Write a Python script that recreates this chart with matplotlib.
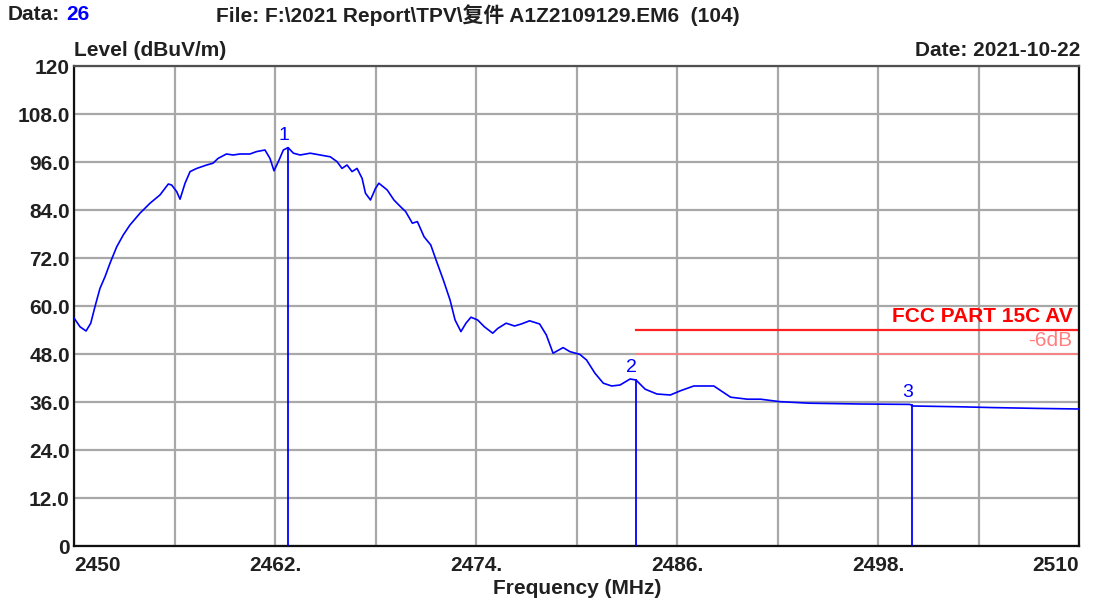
import numpy as np
import matplotlib
matplotlib.use('Agg')
import matplotlib.pyplot as plt

plt.rcParams['font.family'] = ['Liberation Sans', 'Noto Sans CJK SC']

freq = [2450.0, 2450.36, 2450.72, 2451.0, 2451.25, 2451.55, 2451.85, 2452.15, 2452.55,
        2452.94, 2453.34, 2453.94, 2454.54, 2455.13, 2455.63, 2455.83, 2456.13, 2456.33,
        2456.63, 2456.93, 2457.33, 2457.92, 2458.3, 2458.6, 2459.1, 2459.5, 2459.9,
        2460.5, 2460.9, 2461.4, 2461.7, 2461.94, 2462.2, 2462.5, 2462.78, 2463.1,
        2463.5, 2464.1, 2464.7, 2465.3, 2465.7, 2466.0, 2466.3, 2466.6, 2466.9,
        2467.2, 2467.4, 2467.7, 2468.0, 2468.2, 2468.7, 2469.1, 2469.5, 2469.8,
        2470.2, 2470.5, 2470.9, 2471.3, 2471.65, 2472.05, 2472.45, 2472.75, 2473.1,
        2473.4, 2473.7, 2474.1, 2474.5, 2475.0, 2475.3, 2475.8, 2476.3, 2476.7,
        2477.2, 2477.8, 2478.2, 2478.6, 2479.2, 2479.6, 2480.2, 2480.6, 2481.1,
        2481.6, 2482.1, 2482.6, 2483.2, 2483.55, 2484.1, 2484.8, 2485.6, 2486.2,
        2487.0, 2488.2, 2488.7, 2489.2, 2490.2, 2491.0, 2492.1, 2493.9, 2496.9,
        2499.9, 2500.1, 2502.9, 2504.9, 2507.5, 2510.0]
level = [57.0, 54.8, 53.75, 55.7, 59.8, 64.4, 67.3, 70.7, 74.8,
         77.75, 80.25, 83.2, 85.7, 87.75, 90.5, 90.25, 88.6, 86.7,
         90.7, 93.6, 94.4, 95.25, 95.7, 96.9, 98.0, 97.75, 98.0,
         98.0, 98.6, 99.0, 96.9, 93.8, 96.1, 99.0, 99.6, 98.2,
         97.75, 98.2, 97.75, 97.3, 96.1, 94.4, 95.25, 93.6, 94.4,
         91.9, 88.2, 86.5, 89.4, 90.7, 89.0, 86.5, 84.8, 83.6,
         80.7, 81.1, 77.3, 75.25, 71.1, 66.5, 61.5, 56.5, 53.6,
         55.7, 57.2, 56.5, 54.8, 53.2, 54.4, 55.7, 55.0, 55.5,
         56.3, 55.5, 52.75, 48.2, 49.6, 48.6, 47.9, 46.5, 43.2,
         40.7, 40.0, 40.25, 41.75, 41.5, 39.2, 38.0, 37.75, 38.8,
         40.0, 40.0, 38.6, 37.2, 36.7, 36.7, 36.1, 35.7, 35.5,
         35.4, 35.0, 34.8, 34.6, 34.4, 34.25]

# Marcadores
mk_freq = [2462.78, 2483.55, 2500.0]
mk_level = [99.6, 41.5, 35.3]
mk_label = ['1', '2', '3']

# Limite FCC
lim_start = 2483.55
lim_av = 54.0
lim_margin = 48.0

xticks = np.arange(2450, 2511, 6)
xlabels = ['2450', '', '2462.', '', '2474.', '', '2486.', '', '2498.', '', '2510']
yticks = np.arange(0, 121, 12)
ylabels = ['0', '12.0', '24.0', '36.0', '48.0', '60.0', '72.0', '84.0', '96.0', '108.0', '120']

fs = 15

fig = plt.figure(figsize=(11, 6.04), dpi=100)
ax = fig.add_axes([74/1100, 1-546/604, 1005/1100, 480/604])

ax.set_xlim(2450, 2510)
ax.set_ylim(0, 120)
ax.set_xticks(xticks)
ax.set_xticklabels(xlabels)
ax.set_yticks(yticks)
ax.set_yticklabels(ylabels)
ax.tick_params(length=0, labelsize=fs)
ax.tick_params(axis='x', pad=7)
ax.tick_params(axis='y', pad=3)
for t in ax.get_xticklabels() + ax.get_yticklabels():
    t.set_fontweight('bold')
    t.set_color('#202020')
xl = ax.get_xticklabels()
xl[0].set_ha('left')
xl[-1].set_ha('right')
ax.grid(True, color='#a8a8a8', lw=1.6)
ax.set_axisbelow(True)
for s in ax.spines.values():
    s.set_color('#505050')
    s.set_linewidth(1.6)
ax.spines['left'].set_color('#101010')
ax.spines['bottom'].set_color('#101010')
ax.spines['right'].set_color('#101010')

ax.plot(freq, level, color='#0000ff', lw=1.2, zorder=3)

for f, v, lab in zip(mk_freq, mk_level, mk_label):
    ax.plot([f, f], [0, v], color='#0000ff', lw=1.3, zorder=3)
    ax.text(f - 0.25, v + 1.0, lab, color='#0000ff', fontsize=14,
            family=['Liberation Sans', 'DejaVu Sans'], ha='center', va='bottom')

ax.plot([lim_start, 2510], [lim_av, lim_av], color='#ff2020', lw=1.6, zorder=2)
ax.plot([lim_start, 2510], [lim_margin, lim_margin], color='#ff8080', lw=1.3, zorder=2)
ax.text(2509.6, lim_av + 1.0, 'FCC PART 15C AV', color='#ff0000', fontsize=fs,
        fontweight='bold', ha='right', va='bottom')
ax.text(2509.6, lim_margin + 1.0, '-6dB', color='#ff8080', fontsize=fs,
        ha='right', va='bottom')

fig.text(8/1100, 1-15/604, 'Data:', fontsize=fs, fontweight='bold', va='center', color='#202020')
fig.text(66/1100, 1-15/604, '26', fontsize=fs, fontweight='bold', va='center', color='#0000ff')
fig.text(216/1100, 1-15/604, 'File: F:\\2021 Report\\TPV\\复件 A1Z2109129.EM6  (104)',
         fontsize=fs, fontweight='bold', va='center', color='#202020')
fig.text(74/1100, 1-50/604, 'Level (dBuV/m)', fontsize=fs, fontweight='bold',
         va='center', color='#202020')
fig.text(1080/1100, 1-50/604, 'Date: 2021-10-22', fontsize=fs, fontweight='bold',
         va='center', ha='right', color='#202020')
fig.text(577/1100, 1-588/604, 'Frequency (MHz)', fontsize=fs, fontweight='bold',
         va='center', ha='center', color='#202020')

fig.savefig('out.png', dpi=100)
